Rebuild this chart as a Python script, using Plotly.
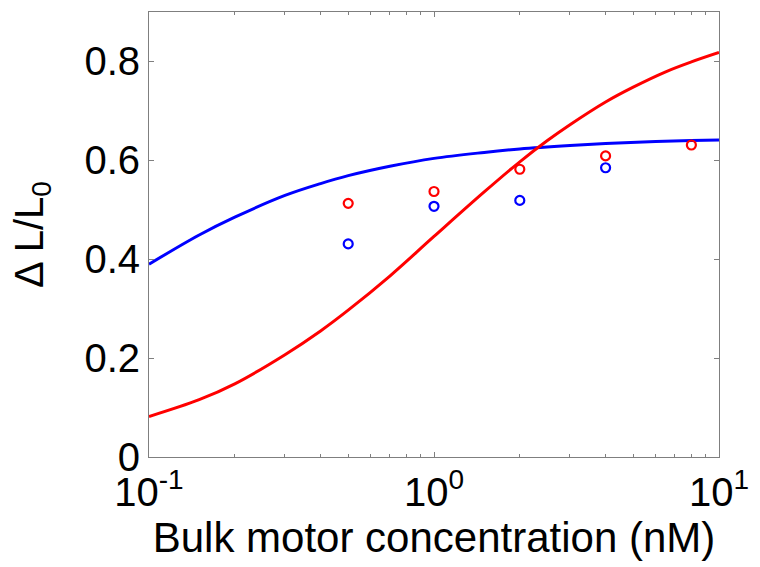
import plotly.graph_objects as go

# Model curves
red_curve_x = [0.1, 0.15, 0.2, 0.3, 0.4, 0.5, 0.7, 1.0, 1.5, 2.0, 2.5, 3.0, 4.0, 5.0, 6.5, 8.0, 10.0]
red_curve_y = [0.082, 0.116, 0.148, 0.207, 0.255, 0.297, 0.366, 0.446, 0.536, 0.597, 0.640, 0.672,
               0.718, 0.748, 0.779, 0.799, 0.818]

blue_curve_x = [0.1, 0.15, 0.2, 0.3, 0.4, 0.5, 0.7, 1.0, 1.5, 2.0, 3.0, 4.0, 6.0, 8.0, 10.0]
blue_curve_y = [0.390, 0.449, 0.485, 0.529, 0.553, 0.569, 0.588, 0.604, 0.616, 0.623, 0.630,
                0.634, 0.638, 0.640, 0.641]

# Measured points
red_pts_x = [0.5, 1, 2, 4, 8]
red_pts_y = [0.513, 0.537, 0.582, 0.609, 0.631]
blue_pts_x = [0.5, 1, 2, 4]
blue_pts_y = [0.431, 0.507, 0.519, 0.585]

x_tickvals = [0.1, 1, 10]
x_ticktext = ["10<sup>-1</sup>", "10<sup>0</sup>", "10<sup>1</sup>"]
x_minor_vals = [0.2, 0.3, 0.4, 0.5, 0.6, 0.7, 0.8, 0.9, 2, 3, 4, 5, 6, 7, 8, 9]
y_tickvals = [0, 0.2, 0.4, 0.6, 0.8]
y_ticktext = ["0", "0.2", "0.4", "0.6", "0.8"]

RED = "#ff0000"
BLUE = "#0000ff"
FONT = "Liberation Sans, Arial, Helvetica, sans-serif"

fig = go.Figure()
fig.add_trace(go.Scatter(x=blue_curve_x, y=blue_curve_y, mode="lines",
                         line=dict(color=BLUE, width=3, shape="spline"), showlegend=False))
fig.add_trace(go.Scatter(x=red_curve_x, y=red_curve_y, mode="lines",
                         line=dict(color=RED, width=3, shape="spline"), showlegend=False))
fig.add_trace(go.Scatter(x=red_pts_x, y=red_pts_y, mode="markers",
                         marker=dict(symbol="circle-open", size=9, color=RED, line=dict(width=2.2, color=RED)),
                         showlegend=False))
fig.add_trace(go.Scatter(x=blue_pts_x, y=blue_pts_y, mode="markers",
                         marker=dict(symbol="circle-open", size=9, color=BLUE, line=dict(width=2.2, color=BLUE)),
                         showlegend=False))

axis_common = dict(showline=True, linecolor="#7f7f7f", linewidth=1, mirror="allticks",
                   ticks="inside", ticklen=5, tickcolor="#7f7f7f", showgrid=False, zeroline=False,
                   tickfont=dict(family=FONT, size=40, color="black"))

fig.update_xaxes(type="log", range=[-1, 1], tickvals=x_tickvals, ticktext=x_ticktext,
                 minor=dict(ticks="inside", ticklen=3, tickcolor="#7f7f7f", tickvals=x_minor_vals),
                 title=dict(text="Bulk motor concentration (nM)", font=dict(family=FONT, size=42, color="black"),
                            standoff=2),
                 **axis_common)
fig.update_yaxes(range=[0, 0.9], tickvals=y_tickvals, ticktext=y_ticktext,
                 title=dict(text="Δ L/L<sub>0</sub>", font=dict(family=FONT, size=40, color="black"),
                            standoff=28),
                 **axis_common)

fig.update_layout(width=760, height=567, margin=dict(l=149, r=37, t=11, b=110),
                  paper_bgcolor="white", plot_bgcolor="white")

fig.write_html("out.html")
